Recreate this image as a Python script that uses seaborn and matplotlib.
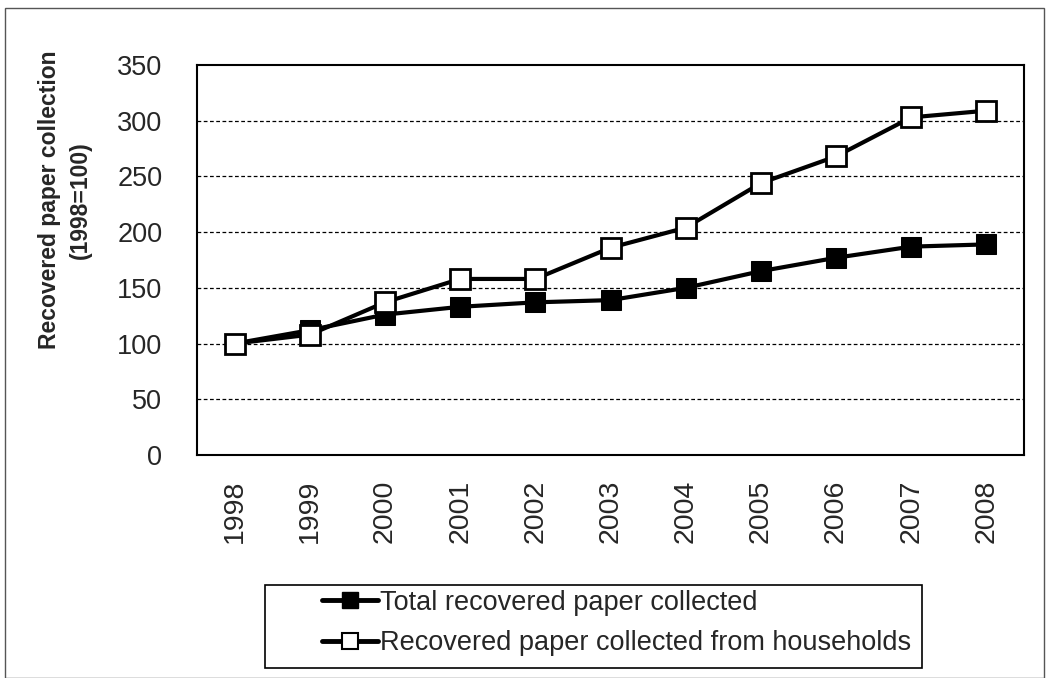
import matplotlib
matplotlib.use("Agg")
import matplotlib.pyplot as plt
import seaborn as sns
import pandas as pd
import numpy as np
from matplotlib.patches import Rectangle

years = ["1998", "1999", "2000", "2001", "2002", "2003", "2004", "2005", "2006", "2007", "2008"]
total = [100, 112, 126, 133, 137, 139, 150, 165, 177, 187, 189]
households = [100, 108, 137, 158, 158, 186, 204, 244, 268, 303, 309]
series_names = ["Total recovered paper collected", "Recovered paper collected from households"]

sns.set_style("white")
plt.rcParams["font.family"] = ["Liberation Sans", "DejaVu Sans"]

df = pd.DataFrame({
    "pos": list(range(len(years))) * 2,
    "value": total + households,
    "series": [series_names[0]] * len(years) + [series_names[1]] * len(years),
})

W, H = 1049, 678
fig = plt.figure(figsize=(W / 100, H / 100), dpi=100)
ax = fig.add_axes([197 / W, 1 - 455 / H, (1024 - 197) / W, (455 - 65) / H])

for yv in range(50, 350, 50):
    ax.axhline(yv, color="black", lw=0.9, ls=(0, (3, 2)), zorder=0)

sns.lineplot(data=df, x="pos", y="value", hue="series", style="series",
             palette=["black", "black"], markers=["s", "s"], dashes=False,
             linewidth=3, markersize=14, ax=ax, legend=False, zorder=3)
lines = ax.get_lines()[-2:]
lines[0].set_markerfacecolor("black")
lines[0].set_markeredgecolor("black")
lines[1].set_markerfacecolor("white")
lines[1].set_markeredgecolor("black")
lines[1].set_markeredgewidth(2)
lines[1].set_zorder(4)

ax.set_xlim(-0.5, len(years) - 0.5)
ax.set_ylim(0, 350)
ax.set_yticks(range(0, 351, 50))
ax.set_xticks(range(len(years)))
ax.set_xticklabels(years, rotation=90, fontsize=20.5)
ax.set_xticks(np.arange(-0.5, len(years), 1), minor=True)
ax.tick_params(axis="x", which="major", length=0, pad=17.5)
ax.tick_params(axis="x", which="minor", length=8, width=1, direction="out", color="black")
ax.tick_params(axis="y", length=9, width=1, direction="out", labelsize=19.5, pad=16, color="black")
for s in ax.spines.values():
    s.set_color("black")
    s.set_linewidth(1.5)
ax.set_xlabel("")
ax.set_ylabel("Recovered paper collection\n(1998=100)", fontsize=16.5, fontweight="bold", linespacing=1.45)
ax.yaxis.set_label_coords(-0.127, 0.654)

handles = [
    plt.Line2D([], [], color="black", lw=3.5, marker="s", markersize=12, markerfacecolor="black"),
    plt.Line2D([], [], color="black", lw=3.5, marker="s", markersize=12, markerfacecolor="white", markeredgewidth=1.5),
]
leg = fig.legend(handles, series_names, loc="center left", bbox_to_anchor=(322 / W, 1 - 623 / H),
                 fontsize=19.5, frameon=False, handlelength=2.05,
                 handletextpad=0.08, borderpad=0, labelspacing=0.52, borderaxespad=0)

fig.patches.append(Rectangle((265 / W, 1 - 668 / H), (922 - 265) / W, (668 - 585) / H, transform=fig.transFigure,
                             fill=False, edgecolor="black", lw=1.2))
fig.patches.append(Rectangle((5 / W, 0), 1039 / W, 1 - 8 / H, transform=fig.transFigure,
                             fill=False, edgecolor="#555555", lw=1))

fig.savefig("out.png", dpi=100)
